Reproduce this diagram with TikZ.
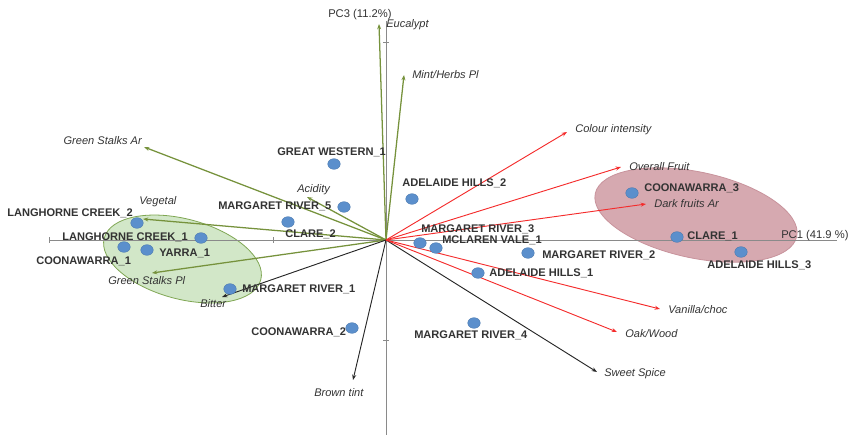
\documentclass[tikz,border=0pt]{standalone}
\usepackage{fontspec}
\setmainfont{Liberation Sans}
\usetikzlibrary{arrows.meta, shapes.geometric}
\definecolor{dotblue}{HTML}{5B8FCC}
\definecolor{dotedge}{HTML}{4A78AE}
\definecolor{vecgreen}{HTML}{76923C}
\definecolor{vecred}{HTML}{F42C2C}
\definecolor{labgray}{HTML}{333333}
\definecolor{axisgray}{HTML}{8A8A8A}
\definecolor{greenfill}{HTML}{D2E7C8}
\definecolor{greenedge}{HTML}{7FA653}
\definecolor{pinkfill}{HTML}{D6A9B0}
\definecolor{pinkedge}{HTML}{C8939C}
\tikzset{
  sampledot/.style = {ellipse, fill = dotblue, draw = dotedge, line width = 0.3pt,
    inner sep = 0, minimum width = 9.4pt, minimum height = 8pt},
  wine/.style = {font = \bfseries\fontsize{8.3}{9}\selectfont, text = labgray, inner sep = 0, anchor = west},
  attr/.style = {font = \itshape\fontsize{8.3}{9}\selectfont, text = labgray, inner sep = 0, anchor = west},
  pclab/.style = {font = \fontsize{8.4}{9}\selectfont, text = labgray, inner sep = 0, anchor = west},
  greenvec/.style = {draw = vecgreen, line width = 0.95pt, -{Stealth[length = 4pt, width = 3pt]}},
  redvec/.style = {draw = vecred, line width = 0.7pt, -{Stealth[length = 4pt, width = 3pt]}},
  blackvec/.style = {draw = black!85, line width = 0.7pt, -{Stealth[length = 4pt, width = 3pt]}},
  axisline/.style = {draw = axisgray, line width = 0.75pt}
}

\begin{document}
\begin{tikzpicture}[x = 0.75pt, y = -0.75pt]
    \useasboundingbox (0, 0) rectangle (853, 435);

    % groups
    \draw [fill = greenfill, draw = greenedge, line width = 0.6pt, rotate around = {-15:(182.5, 259)}]
        (182.5, 259) ellipse [x radius = 81, y radius = 40];
    \draw [fill = pinkfill, draw = pinkedge, line width = 0.6pt, rotate around = {-12:(696, 215)}]
        (696, 215) ellipse [x radius = 103, y radius = 43];

    % axes
    \coordinate (O) at (386, 240);
    \coordinate (xl) at (49, 240);
    \coordinate (xr) at (837, 240);
    \coordinate (yt) at (386, 21);
    \coordinate (yb) at (386, 435);
    \draw [axisline] (xl) -- (xr);
    \draw [axisline] (yt) -- (yb);
    \draw [axisline, line width = 0.5pt] (49, 237) -- (49, 243);
    \draw [axisline, line width = 0.5pt] (273, 237) -- (273, 243);
    \draw [axisline, line width = 0.5pt] (383, 42) -- (389, 42);
    \draw [axisline, line width = 0.5pt] (383, 340) -- (389, 340);
    \node [pclab] (pc1) at (781, 236) {PC1 (41.9 \%)};
    \node [pclab] (pc3) at (328, 15) {PC3 (11.2\%)};

    % attribute vectors
    \coordinate (eucalypt) at (379, 24);
    \coordinate (mint) at (404, 75);
    \coordinate (gsar) at (144, 147);
    \coordinate (acidity) at (307, 197);
    \coordinate (vegetal) at (143, 219);
    \coordinate (gspl) at (152, 273);
    \coordinate (bitter) at (222, 297);
    \coordinate (brown) at (353, 380);
    \coordinate (spice) at (597, 372);
    \coordinate (colour) at (567, 132);
    \coordinate (fruit) at (621, 167);
    \coordinate (dark) at (646, 204);
    \coordinate (vanilla) at (660, 309);
    \coordinate (oak) at (617, 332);

    \draw [greenvec] (O) -- (eucalypt);
    \draw [greenvec] (O) -- (mint);
    \draw [greenvec] (O) -- (gsar);
    \draw [greenvec] (O) -- (acidity);
    \draw [greenvec] (O) -- (vegetal);
    \draw [greenvec] (O) -- (gspl);
    \draw [blackvec] (O) -- (bitter);
    \draw [blackvec] (O) -- (brown);
    \draw [blackvec] (O) -- (spice);
    \draw [redvec] (O) -- (colour);
    \draw [redvec] (O) -- (fruit);
    \draw [redvec] (O) -- (dark);
    \draw [redvec] (O) -- (vanilla);
    \draw [redvec] (O) -- (oak);

    \node [attr] (eucalyptl) at (386, 25) {Eucalypt};
    \node [attr] (mintl) at (412, 75) {Mint/Herbs Pl};
    \node [attr, anchor = east] (gsarl) at (142, 141) {Green Stalks Ar};
    \node [attr] (acidityl) at (297, 190) {Acidity};
    \node [attr] (vegetall) at (139, 202) {Vegetal};
    \node [attr] (gspll) at (108, 281) {Green Stalks Pl};
    \node [attr] (bitterl) at (200, 304) {Bitter};
    \node [attr] (brownl) at (314, 393) {Brown tint};
    \node [attr] (spicel) at (604, 374) {Sweet Spice};
    \node [attr] (colourl) at (575, 130) {Colour intensity};
    \node [attr] (fruitl) at (629, 167) {Overall Fruit};
    \node [attr] (darkl) at (654, 204) {Dark fruits Ar};
    \node [attr] (vanillal) at (668, 310) {Vanilla/choc};
    \node [attr] (oakl) at (625, 334) {Oak/Wood};

    % samples
    \node [sampledot] (gw1) at (334, 164) {};
    \node [sampledot] (ah2) at (412, 199) {};
    \node [sampledot] (mr5) at (344, 207) {};
    \node [sampledot] (cl2) at (288, 222) {};
    \node [sampledot] (mr3) at (420, 243) {};
    \node [sampledot] (mv1) at (436, 248) {};
    \node [sampledot] (mr2) at (528, 253) {};
    \node [sampledot] (ah1) at (478, 273) {};
    \node [sampledot] (mr1) at (230, 289) {};
    \node [sampledot] (co2) at (352, 328) {};
    \node [sampledot] (mr4) at (474, 323) {};
    \node [sampledot] (co3) at (632, 193) {};
    \node [sampledot] (cl1) at (677, 237) {};
    \node [sampledot] (ah3) at (741, 252) {};
    \node [sampledot] (lc2) at (137, 223) {};
    \node [sampledot] (lc1) at (201, 238) {};
    \node [sampledot] (co1) at (124, 247) {};
    \node [sampledot] (ya1) at (147, 250) {};

    \node [wine] (gw1l) at (277, 152) {GREAT WESTERN\_1};
    \node [wine] (ah2l) at (402, 183) {ADELAIDE HILLS\_2};
    \node [wine] (mr5l) at (218, 206) {MARGARET RIVER\_5};
    \node [wine] (cl2l) at (285, 234) {CLARE\_2};
    \node [wine] (mr3l) at (421, 229) {MARGARET RIVER\_3};
    \node [wine] (mv1l) at (442, 240) {MCLAREN VALE\_1};
    \node [wine] (mr2l) at (542, 255) {MARGARET RIVER\_2};
    \node [wine] (ah1l) at (489, 273) {ADELAIDE HILLS\_1};
    \node [wine] (mr1l) at (242, 289) {MARGARET RIVER\_1};
    \node [wine] (co2l) at (251, 332) {COONAWARRA\_2};
    \node [wine] (mr4l) at (414, 335) {MARGARET RIVER\_4};
    \node [wine] (co3l) at (644, 188) {COONAWARRA\_3};
    \node [wine] (cl1l) at (687, 236) {CLARE\_1};
    \node [wine] (ah3l) at (707, 265) {ADELAIDE HILLS\_3};
    \node [wine] (lc2l) at (7, 213) {LANGHORNE CREEK\_2};
    \node [wine] (lc1l) at (62, 237) {LANGHORNE CREEK\_1};
    \node [wine] (co1l) at (36, 261) {COONAWARRA\_1};
    \node [wine] (ya1l) at (159, 253) {YARRA\_1};
\end{tikzpicture}
\end{document}
